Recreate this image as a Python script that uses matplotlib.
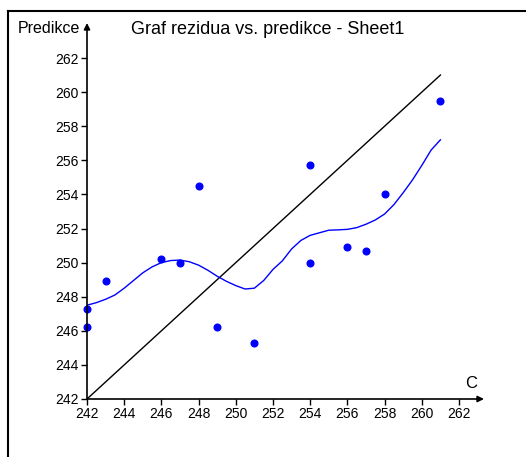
import numpy as np
import matplotlib.pyplot as plt
from matplotlib.lines import Line2D

# observed (C) vs predicted values
c_obs = [242, 242, 243, 246, 247, 248, 249, 251, 254, 254, 256, 257, 258, 261]
pred = [247.3, 246.2, 248.9, 250.2, 250.0, 254.5, 246.2, 245.3, 255.7, 250.0, 250.9, 250.7, 254.0, 259.5]

# smoothed curve
curve_x = [242, 242.5, 243, 243.5, 244, 244.5, 245, 245.5, 246, 246.5, 247, 247.5,
           248, 248.5, 249, 249.5, 250, 250.5, 251, 251.5, 252, 252.5, 253, 253.5,
           254, 254.5, 255, 255.5, 256, 256.5, 257, 257.5, 258, 258.5, 259, 259.5,
           260, 260.5, 261]
curve_y = [247.5, 247.65, 247.85, 248.1, 248.5, 248.95, 249.4, 249.75, 250.0, 250.12,
           250.15, 250.05, 249.85, 249.55, 249.2, 248.9, 248.65, 248.45, 248.5, 248.95,
           249.6, 250.1, 250.8, 251.3, 251.6, 251.75, 251.9, 251.92, 251.95, 252.05,
           252.25, 252.5, 252.85, 253.4, 254.1, 254.85, 255.7, 256.6, 257.2]

ideal = [242, 261]
ticks = np.arange(242, 263, 2)

plt.rcParams['font.family'] = ['Liberation Sans', 'DejaVu Sans']

fig = plt.figure(figsize=(5.26, 4.57), dpi=100)
# 242 sits at (87, 399) px; 18.6 px per unit in x, 17.05 in y
ax = fig.add_axes([87 / 526, 58 / 457, 397 / 526, 376 / 457])
ax.set_xlim(242, 242 + 397 / 18.6)
ax.set_ylim(242, 242 + 376 / 17.05)
for s in ax.spines.values():
    s.set_visible(False)

x_end = ax.get_xlim()[1]
y_end = ax.get_ylim()[1]
arrow = dict(arrowstyle='-|>', color='black', lw=1.2, mutation_scale=9, shrinkA=0, shrinkB=0)
ax.annotate('', xy=(x_end, 242), xytext=(242, 242), arrowprops=arrow, annotation_clip=False)
ax.annotate('', xy=(242, y_end), xytext=(242, 242), arrowprops=arrow, annotation_clip=False)

ax.plot(ideal, ideal, color='black', lw=1)
ax.plot(curve_x, curve_y, color='#0000ff', lw=1)
ax.plot(c_obs, pred, 'o', color='#0000ff', ms=4.8, clip_on=False)

ax.set_xticks(ticks)
ax.set_yticks(ticks)
ax.tick_params(direction='out', length=4, width=1, labelsize=10, pad=2)

fig.text(80 / 526, 1 - 33 / 457, 'Predikce', ha='right', va='baseline', fontsize=11.5)
fig.text(471 / 526, 1 - 388 / 457, 'C', ha='center', va='baseline', fontsize=12)
fig.text(268 / 526, 1 - 34 / 457, 'Graf rezidua vs. predikce - Sheet1', ha='center', va='baseline', fontsize=13)

# outer frame
fig.add_artist(Line2D([8 / 526, 1], [1 - 11 / 457, 1 - 11 / 457], color='black', lw=1.5))
fig.add_artist(Line2D([8 / 526, 8 / 526], [0, 1 - 11 / 457], color='black', lw=1.5))

fig.savefig('out.png', dpi=100)
